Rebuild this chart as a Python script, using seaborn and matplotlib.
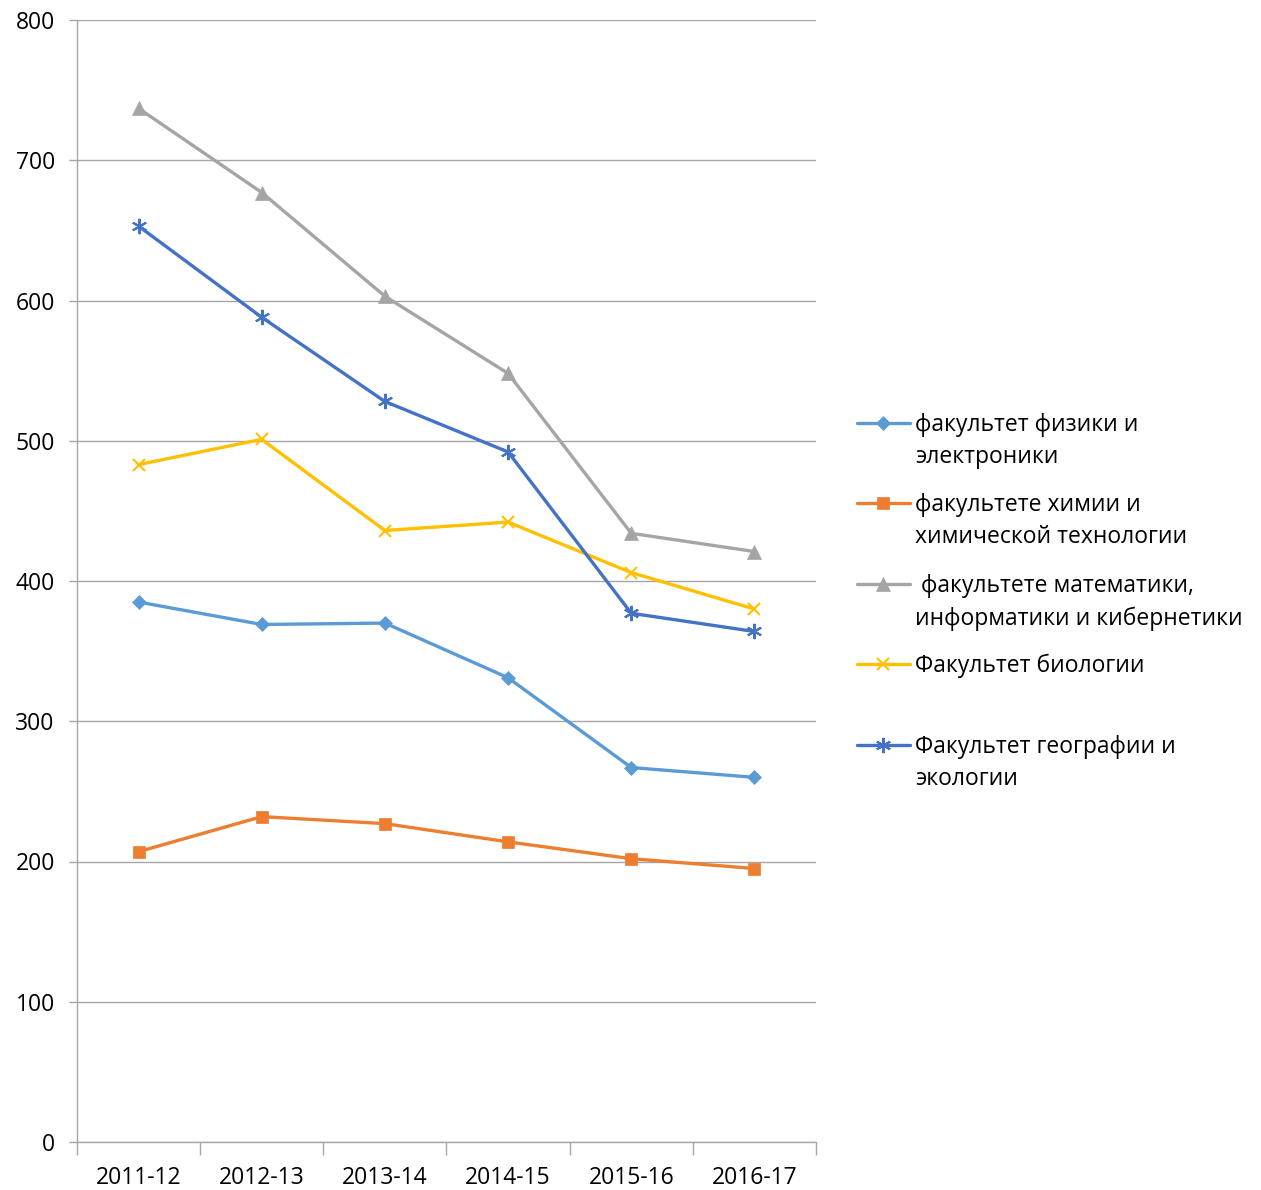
import matplotlib
matplotlib.use("Agg")
import matplotlib.pyplot as plt
import seaborn as sns
import numpy as np
import pandas as pd
from matplotlib.lines import Line2D

years = ["2011-12", "2012-13", "2013-14", "2014-15", "2015-16", "2016-17"]
physics = [385, 369, 370, 331, 267, 260]
chemistry = [207, 232, 227, 214, 202, 195]
math = [737, 677, 603, 548, 434, 421]
biology = [483, 501, 436, 442, 406, 380]
geography = [653, 588, 528, 492, 377, 364]

labels = ["факультет физики и\nэлектроники",
          "факультете химии и\nхимической технологии",
          " факультете математики,\nинформатики и кибернетики",
          "Факультет биологии",
          "Факультет географии и\nэкологии"]
series = [physics, chemistry, math, biology, geography]
colors = ["#5B9BD5", "#ED7D31", "#A5A5A5", "#FFC000", "#4472C4"]
markers = ["D", "s", "^", "x", (6, 2, 0)]
msizes = [7.5, 9, 10, 9, 11]

sns.set_theme(style="white")
plt.rcParams['font.family'] = ['Open Sans', 'DejaVu Sans']

FS = 16.5
fig = plt.figure(figsize=(12.61, 11.90), dpi=100)
ax = fig.add_axes([77/1261, 1-1142/1190, (816-77)/1261, (1142-20)/1190])

x = np.arange(len(years))
for vals, c, m, ms in zip(series, colors, markers, msizes):
    df = pd.DataFrame({"x": x, "y": vals})
    sns.lineplot(data=df, x="x", y="y", ax=ax, color=c, lw=2.4,
                 marker=m, markersize=ms, markeredgecolor=c,
                 markerfacecolor=c, markeredgewidth=1.5 if m in ("x",) or isinstance(m, tuple) else 0.5)

ax.set_xlim(-0.5, len(years)-0.5)
ax.set_ylim(0, 800)
ax.set_yticks(range(0, 801, 100))
ax.set_yticklabels([str(v) for v in range(0, 801, 100)], fontsize=FS, color="black")
ax.yaxis.grid(True, color="#A6A6A6", lw=1)
ax.set_axisbelow(True)
ax.set_xticks(np.arange(-0.5, len(years), 1.0))
ax.set_xticklabels([])
ax.set_xticks(x, minor=True)
ax.set_xticklabels(years, minor=True, fontsize=FS, color="black")
ax.tick_params(axis="x", which="major", length=9, color="#A6A6A6", width=1, direction="out", bottom=True)
ax.tick_params(axis="x", which="minor", length=0, pad=17)
ax.tick_params(axis="y", length=6, color="#A6A6A6", width=1, direction="out", left=True, pad=10)
ax.set_xlabel("")
ax.set_ylabel("")
for s in ["top", "right"]:
    ax.spines[s].set_visible(False)
for s in ["left", "bottom"]:
    ax.spines[s].set_color("#A6A6A6")
    ax.spines[s].set_linewidth(1)

# legend (manual, Excel-like layout)
ys = [423, 503, 584, 664, 745]
for lab, c, m, ms, yy in zip(labels, colors, markers, msizes, ys):
    fy = 1 - yy/1190
    fig.add_artist(Line2D([857/1261, 910/1261], [fy, fy], color=c, lw=2.4,
                          transform=fig.transFigure))
    fig.add_artist(Line2D([883/1261], [fy], color=c, marker=m, markersize=ms,
                          markerfacecolor=c, markeredgecolor=c,
                          markeredgewidth=1.5 if m == "x" or isinstance(m, tuple) else 0.5,
                          transform=fig.transFigure))
    fig.text(915/1261, 1 - (yy - 10)/1190, lab, fontsize=FS, va="top", ha="left",
             linespacing=1.45, transform=fig.transFigure, color="#000000")

fig.savefig("out.png", dpi=100)
